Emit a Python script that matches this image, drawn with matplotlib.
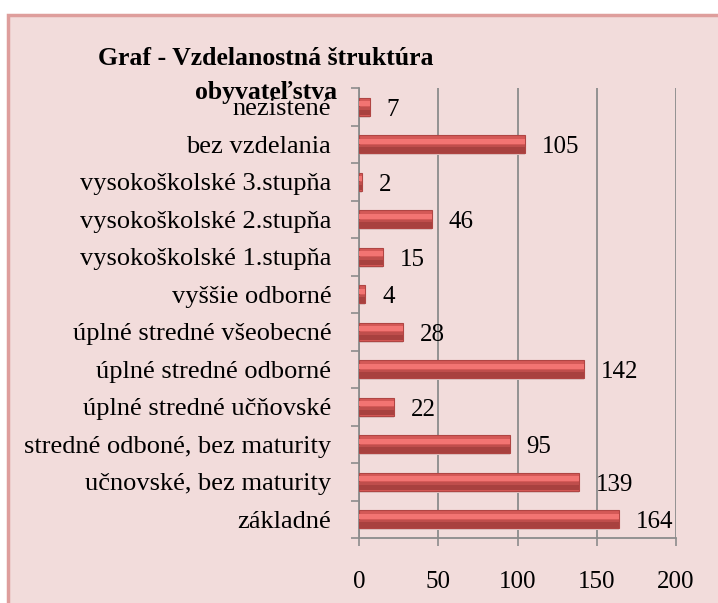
import matplotlib.pyplot as plt
from matplotlib.patches import Rectangle

categories = [
    "základné",
    "učnovské, bez maturity",
    "stredné odboné, bez maturity",
    "úplné stredné učňovské",
    "úplné stredné odborné",
    "úplné stredné všeobecné",
    "vyššie odborné",
    "vysokoškolské 1.stupňa",
    "vysokoškolské 2.stupňa",
    "vysokoškolské 3.stupňa",
    "bez vzdelania",
    "nezistené",
]
values = [164, 139, 95, 22, 142, 28, 4, 15, 46, 2, 105, 7]
x_ticks = [0, 50, 100, 150, 200]
title = "Graf - Vzdelanostná štruktúra\nobyvateľstva"

BG = "#F2DCDB"
FONT = "Liberation Serif"

fig = plt.figure(figsize=(7.18, 6.03), dpi=100)
fig.patch.set_facecolor("white")
frame = Rectangle((8 / 718, -0.05), 1.0, 1 - 15 / 603 + 0.05,
                  transform=fig.transFigure, facecolor=BG,
                  edgecolor="#DE9E9C", linewidth=2.5, zorder=-10)
fig.add_artist(frame)

ax = fig.add_axes([359 / 718, 65 / 603, 317 / 718, 450 / 603])
ax.set_facecolor("none")

ypos = list(range(len(categories)))
h = 0.48
# faint shadow, base bar, dark lower part, light highlight
ax.barh([y - h * 0.55 for y in ypos], values, height=h * 0.12,
        color="#DDC3C2", linewidth=0, zorder=2)
ax.barh(ypos, values, height=h, color="#D45957", edgecolor="#B04543",
        linewidth=0.8, zorder=3)
ax.barh([y - h * 0.3 for y in ypos], values, height=h * 0.36,
        color="#A8413F", linewidth=0, zorder=3)
ax.barh([y - h * 0.1 for y in ypos], values, height=h * 0.12,
        color="#BF4E4C", linewidth=0, zorder=3)
ax.barh([y + h * 0.17 for y in ypos], values, height=h * 0.26,
        color="#F27472", linewidth=0, zorder=3)

for y, v in zip(ypos, values):
    ax.annotate(str(v), (v, y), xytext=(12, -2), textcoords="offset points",
                ha="left", va="center", fontsize=18, family=FONT, zorder=4)

ax.set_xlim(0, 200)
ax.set_ylim(-0.5, len(categories) - 0.5)
ax.set_xticks(x_ticks)
ax.set_xticklabels([str(t) for t in x_ticks], fontsize=18, family=FONT)
ax.set_yticks(ypos)
ax.set_yticklabels(categories, fontsize=19, family=FONT)
ax.set_yticks([y + 0.5 for y in range(-1, len(categories))], minor=True)
ax.tick_params(axis="y", which="major", length=0, pad=20)
ax.tick_params(axis="y", which="minor", length=6, color="#8C8C8C", width=1.2)
ax.tick_params(axis="x", length=6, color="#8C8C8C", width=1.2, pad=18)
ax.grid(axis="x", color="#8C8C8C", linewidth=1.3, zorder=1)
ax.set_axisbelow(True)
for side in ["top", "right"]:
    ax.spines[side].set_visible(False)
for side in ["left", "bottom"]:
    ax.spines[side].set_color("#8C8C8C")
    ax.spines[side].set_linewidth(1.3)

fig.text(266 / 718, 1 - 47 / 603, title, ha="center", va="top",
         fontsize=18.5, fontweight="bold", family=FONT, linespacing=1.6,
         zorder=5)

fig.savefig("out.png", dpi=100, facecolor=fig.get_facecolor())
